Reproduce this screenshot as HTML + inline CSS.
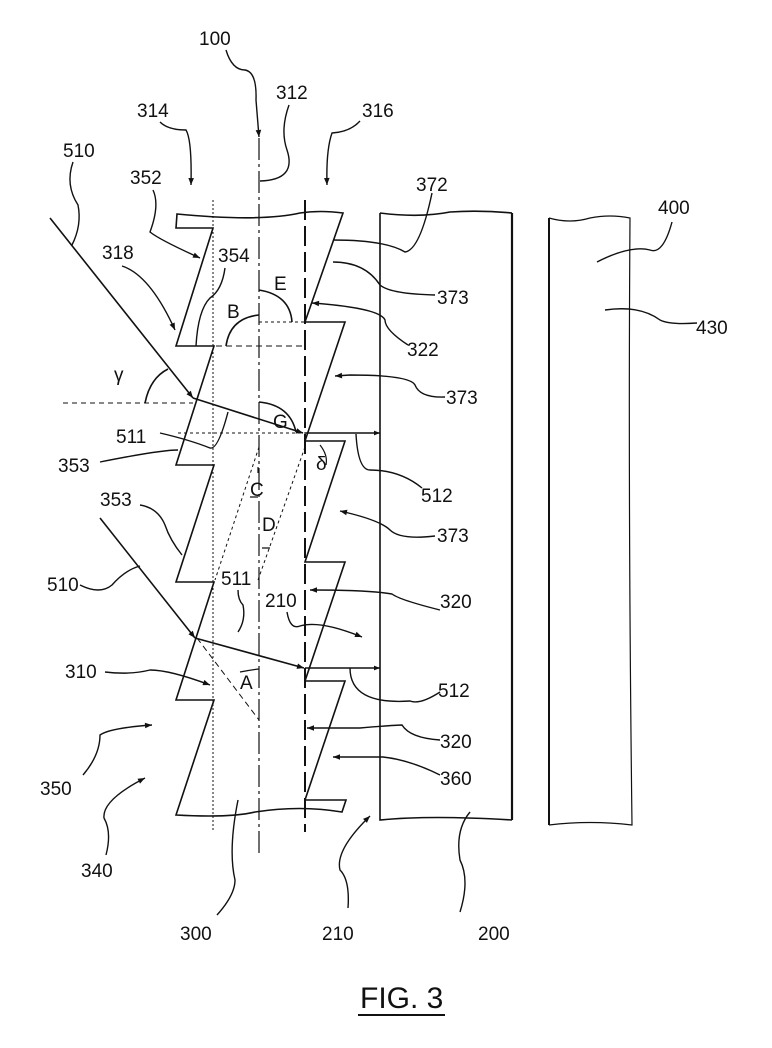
<!DOCTYPE html>
<html><head><meta charset="utf-8"><style>
html,body{margin:0;padding:0;background:#fff;}
svg{display:block;}
text{font-family:"Liberation Sans",sans-serif;font-size:19px;fill:#111;}
</style></head><body>
<svg width="772" height="1048" viewBox="0 0 772 1048" xmlns="http://www.w3.org/2000/svg">
<defs>
<marker id="a" viewBox="0 0 10 10" refX="10" refY="5" markerWidth="9" markerHeight="6" orient="auto-start-reverse" markerUnits="userSpaceOnUse"><path d="M0,1 L10,5 L0,9 Z" fill="#111"/></marker>
<marker id="b" viewBox="0 0 10 10" refX="10" refY="5" markerWidth="16" markerHeight="7" orient="auto" markerUnits="userSpaceOnUse"><path d="M0,1 L10,5 L0,9 Z" fill="#111"/></marker>
</defs>
<g fill="none" stroke="#111" stroke-width="1.6">
<line x1="213" y1="200" x2="213" y2="830" stroke-dasharray="2 2" stroke-width="1"/>
<line x1="259" y1="138" x2="259" y2="857" stroke-dasharray="22 4 3 4" stroke-width="1.2"/>
<line x1="305" y1="200" x2="305" y2="832" stroke-dasharray="20 6" stroke-width="2"/>
<path d="M177,214 Q260,222 300,213 Q320,210 343,213 L305,322 L345,322 L305,441 L345,441 L305,562 L345,562 L305,681 L345,681 L305,800 L346,800 L342,812 Q300,805 255,812 Q230,818 176,815 L214,700 L176,700 L214,582 L176,582 L214,465 L176,465 L214,346 L176,346 L213,228 L176,228 Z"/>
<path d="M380,213 Q420,218 450,212 Q480,210 512,213 M380,213 L380,820 Q430,815 512,820" />
<path d="M512,213 L512,820" stroke-width="2.2"/>
<path d="M549,218 Q570,224 590,218 Q610,214 630,218 Q628,500 632,825 Q590,820 549,825" stroke-width="1.2"/>
<path d="M549,218 L549,825" stroke-width="2"/>
<line x1="63" y1="403" x2="193" y2="403" stroke-dasharray="5 4" stroke-width="1"/>
<line x1="178" y1="433" x2="305" y2="433" stroke-dasharray="3 3" stroke-width="1"/>
<line x1="176" y1="346" x2="305" y2="346" stroke-dasharray="6 4" stroke-width="1"/>
<line x1="259" y1="322" x2="305" y2="322" stroke-dasharray="3 3" stroke-width="1"/>
<line x1="305" y1="447" x2="258" y2="580" stroke-dasharray="3 3" stroke-width="1"/>
<line x1="259" y1="447" x2="215" y2="580" stroke-dasharray="3 3" stroke-width="1"/>
<line x1="197" y1="638" x2="259" y2="720" stroke-dasharray="6 4" stroke-width="1"/>
<line x1="50" y1="218" x2="193" y2="398" marker-end="url(#b)"/>
<line x1="193" y1="398" x2="303" y2="433" marker-end="url(#b)"/>
<line x1="305" y1="433" x2="380" y2="433" marker-end="url(#a)"/>
<line x1="100" y1="518" x2="195" y2="638" marker-end="url(#b)"/>
<line x1="195" y1="638" x2="304" y2="668" marker-end="url(#b)"/>
<line x1="305" y1="668" x2="380" y2="668" marker-end="url(#a)"/>
<path d="M226,346 Q230,318 259,315"/>
<path d="M259,290 Q290,295 292,322"/>
<path d="M259,402 Q290,405 296,432"/>
<path d="M145,403 Q150,378 168,369"/>
<path d="M240,672 Q250,670 259,669" stroke-width="1.2"/>
<path d="M320,445 Q328,455 326,465" stroke-width="1.2"/>
<path d="M258,467 L258,473 M258,497 L250,497 M262,548 L270,548" stroke-width="1.2"/>
<g stroke-width="1.4">
<path d="M226,50 Q232,70 245,70 Q257,72 256,100 L259,137" marker-end="url(#b)"/>
<path d="M289,105 Q280,130 287,150 Q297,180 260,181"/>
<path d="M160,122 Q168,130 186,130 Q192,140 191,185" marker-end="url(#b)"/>
<path d="M360,121 Q350,132 332,133 Q326,150 327,185" marker-end="url(#b)"/>
<path d="M73,162 Q65,185 78,205 Q82,225 72,245"/>
<path d="M153,190 Q160,205 150,232 Q160,240 200,258" marker-end="url(#b)"/>
<path d="M122,266 Q150,275 175,330" marker-end="url(#b)"/>
<path d="M432,193 Q420,250 405,252 Q385,240 333,240"/>
<path d="M225,268 Q222,290 210,298 Q198,310 196,346"/>
<path d="M435,295 Q390,294 380,285 Q365,262 333,262"/>
<path d="M408,345 Q385,330 385,320 Q380,308 312,303" marker-end="url(#b)"/>
<path d="M445,397 Q420,398 415,385 Q410,375 350,375 L335,376" marker-end="url(#b)"/>
<path d="M160,433 Q190,440 210,448 Q218,450 228,412"/>
<path d="M100,462 Q160,450 178,450"/>
<path d="M422,488 Q400,470 370,470 Q358,470 356,434"/>
<path d="M140,505 Q158,508 165,525 Q170,540 182,555"/>
<path d="M435,536 Q400,540 390,530 Q380,520 340,511" marker-end="url(#b)"/>
<path d="M80,585 Q100,595 112,585 Q125,570 140,566"/>
<path d="M238,590 Q238,600 243,605 Q246,620 238,632"/>
<path d="M287,612 Q290,630 300,626 Q320,620 362,637" marker-end="url(#b)"/>
<path d="M440,610 Q400,600 392,594 Q370,590 310,590" marker-end="url(#b)"/>
<path d="M105,672 Q130,675 150,670 Q170,670 210,685" marker-end="url(#b)"/>
<path d="M440,692 Q420,705 410,701 Q350,705 350,668"/>
<path d="M440,740 Q410,738 402,725 Q395,725 360,728 L307,728" marker-end="url(#b)"/>
<path d="M83,775 Q100,755 100,735 Q110,728 152,725" marker-end="url(#b)"/>
<path d="M440,775 Q410,760 383,757 L333,757" marker-end="url(#b)"/>
<path d="M106,855 Q112,832 104,818 Q102,800 145,778" marker-end="url(#b)"/>
<path d="M217,915 Q235,895 235,880 Q228,850 238,800"/>
<path d="M348,908 Q350,880 340,870 Q335,850 370,816" marker-end="url(#b)"/>
<path d="M460,912 Q470,880 460,860 Q455,830 470,812"/>
<path d="M672,222 Q663,255 650,250 Q630,245 597,262"/>
<path d="M697,323 Q670,325 660,320 Q640,305 605,310"/>
</g>
</g>
<text x="199" y="45">100</text>
<text x="276" y="99">312</text>
<text x="137" y="117">314</text>
<text x="362" y="117">316</text>
<text x="63" y="157">510</text>
<text x="130" y="184">352</text>
<text x="416" y="191">372</text>
<text x="218" y="262">354</text>
<text x="102" y="259">318</text>
<text x="274" y="290">E</text>
<text x="227" y="318">B</text>
<text x="437" y="304">373</text>
<text x="407" y="356">322</text>
<text x="114" y="381">γ</text>
<text x="446" y="404">373</text>
<text x="273" y="428">G</text>
<text x="116" y="443">511</text>
<text x="316" y="470">δ</text>
<text x="58" y="472">353</text>
<text x="421" y="502">512</text>
<text x="100" y="506">353</text>
<text x="250" y="496">C</text>
<text x="262" y="531">D</text>
<text x="437" y="542">373</text>
<text x="47" y="591">510</text>
<text x="221" y="585">511</text>
<text x="265" y="607">210</text>
<text x="440" y="608">320</text>
<text x="65" y="678">310</text>
<text x="240" y="689">A</text>
<text x="438" y="697">512</text>
<text x="440" y="748">320</text>
<text x="40" y="795">350</text>
<text x="440" y="785">360</text>
<text x="81" y="877">340</text>
<text x="180" y="940">300</text>
<text x="322" y="940">210</text>
<text x="478" y="940">200</text>
<text x="658" y="214">400</text>
<text x="696" y="334">430</text>
<text x="360" y="1008" style="font-size:30px;">FIG. 3</text>
<line x1="358" y1="1015" x2="445" y2="1015" stroke="#111" stroke-width="2"/>
</svg>
</body></html>
